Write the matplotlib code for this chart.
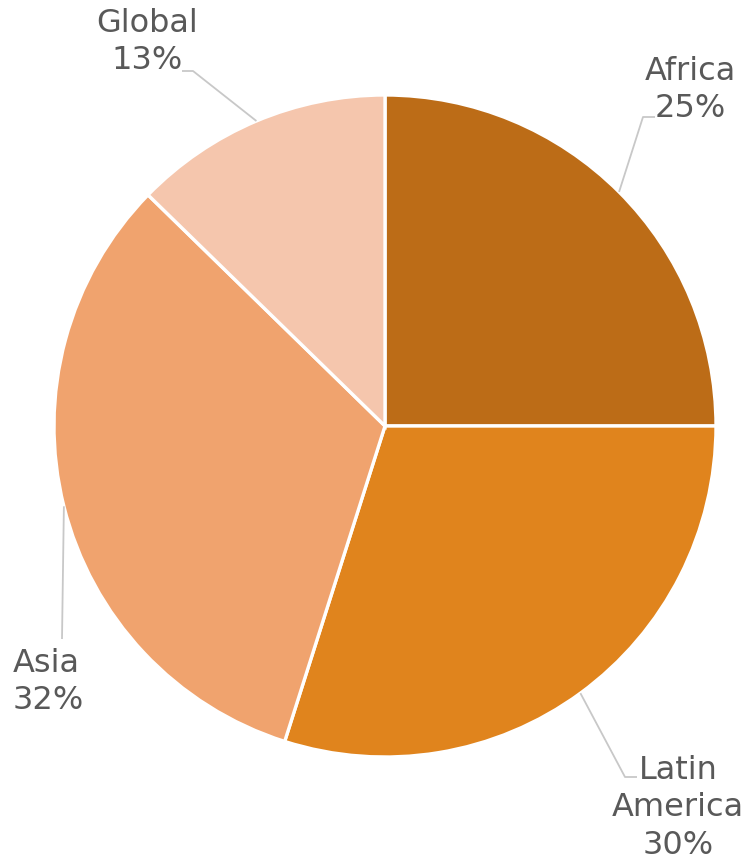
import numpy as np
import matplotlib.pyplot as plt

regions = ["Africa", "Latin\nAmerica", "Asia", "Global"]
shares = [25.0, 29.9, 32.4, 12.7]
colors = ["#BC6C17", "#E0841D", "#F0A36E", "#F5C6AD"]

W, H = 748, 862
fig = plt.figure(figsize=(W / 100, H / 100), dpi=100)
ax = fig.add_axes([0, 0, 1, 1])

cx, cy, rad = 385, H - 427, 331
wedges, _ = ax.pie(
    shares, colors=colors, startangle=90, counterclock=False,
    center=(cx, cy), radius=rad, frame=True,
    wedgeprops=dict(edgecolor="white", linewidth=2.4),
)
ax.set_xlim(0, W)
ax.set_ylim(0, H)
ax.set_aspect("equal")
ax.axis("off")

# label placement (pixel coords from top) and leader elbows
label_pos = {
    "Africa": ((690, 90), "center", [(643, 118), (655, 118)]),
    "Latin\nAmerica": ((678, 808), "center", [(625, 778), (637, 778)]),
    "Asia": ((13, 682), "left", [(62, 640)]),
    "Global": ((147, 42), "center", [(193, 72), (182, 72)]),
}

text_color = "#595959"
line_color = "#C8C8C8"
for w, name, val in zip(wedges, regions, shares):
    mid = np.deg2rad((w.theta1 + w.theta2) / 2)
    x0 = cx + rad * np.cos(mid)
    y0 = cy + rad * np.sin(mid)
    (tx, ty), ha, pts = label_pos[name]
    xs = [x0] + [p[0] for p in pts]
    ys = [y0] + [H - p[1] for p in pts]
    ax.plot(xs, ys, color=line_color, lw=1.3, solid_capstyle="butt")
    ax.text(tx, H - ty, f"{name}\n{val:.0f}%", ha=ha, va="center",
            multialignment=ha, fontsize=23, color=text_color,
            linespacing=1.27, family="DejaVu Sans")

fig.savefig("out.png", dpi=100)
